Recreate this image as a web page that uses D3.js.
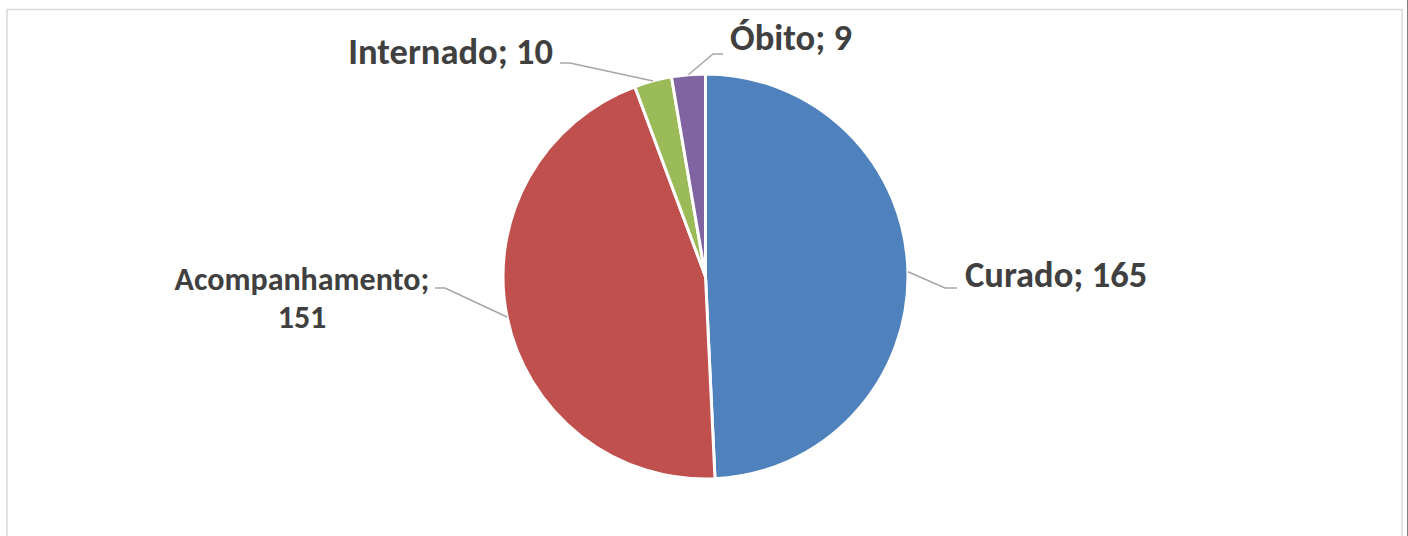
<!DOCTYPE html>
<html>
<head>
<meta charset="utf-8">
<script src="https://cdn.jsdelivr.net/npm/d3@7"></script>
<style>
    html, body { margin: 0; padding: 0; background: #fff; }
    svg { display: block; }
    .label { font-family: Calibri, Carlito, Lato, sans-serif; font-weight: 700; fill: #404040; }
</style>
</head>
<body>
<svg id="chart"></svg>
<script>
// Chart data
const categories = ['Curado', 'Acompanhamento', 'Internado', 'Óbito'];
const values = [165, 151, 10, 9];
const colors = ['#4F81BD', '#C0504D', '#9BBB59', '#8064A2'];

// Layout
const width = 1408;
const height = 536;
const center = { x: 705.5, y: 276.5 };
const radius = 202.5;

// Label placement (text lines, anchor, font size, leader line elbow and end)
const labelLayout = {
    'Curado':         { lines: ['Curado; 165'], x: 965, y: 287, anchor: 'start', size: 36.5, elbow: [945, 288], end: [957, 288] },
    'Acompanhamento': { lines: ['Acompanhamento;', '151'], x: 302, y: 290, anchor: 'middle', size: 32, elbow: [445, 288], end: [435, 288] },
    'Internado':      { lines: ['Internado; 10'], x: 553, y: 64, anchor: 'end', size: 36.5, elbow: [570, 63], end: [560, 63] },
    'Óbito':          { lines: ['Óbito; 9'], x: 730, y: 50, anchor: 'start', size: 36.5, elbow: [713, 54], end: [723, 54] }
};

const data = categories.map((c, i) => ({ name: c, value: values[i], color: colors[i] }));

const svg = d3.select('#chart')
    .attr('width', width)
    .attr('height', height);

// Chart area border
svg.append('rect')
    .attr('x', 7)
    .attr('y', 9.5)
    .attr('width', 1395)
    .attr('height', 560)
    .attr('fill', 'none')
    .attr('stroke', '#D9D9D9')
    .attr('stroke-width', 1.5);

svg.append('line')
    .attr('x1', 1407.5).attr('x2', 1407.5)
    .attr('y1', 0).attr('y2', height)
    .attr('stroke', '#7F7F7F')
    .attr('stroke-width', 1);

const pie = d3.pie()
    .sort(null)
    .value(d => d.value);

const arc = d3.arc()
    .innerRadius(0)
    .outerRadius(radius);

const arcs = pie(data);

const g = svg.append('g')
    .attr('transform', `translate(${center.x},${center.y})`);

// Slices
g.selectAll('path.slice')
    .data(arcs)
    .enter().append('path')
    .attr('class', 'slice')
    .attr('d', arc)
    .attr('fill', d => d.data.color)
    .attr('stroke', '#fff')
    .attr('stroke-width', 3)
    .attr('stroke-linejoin', 'round');

// Leader lines: from slice edge at mid angle to the label
svg.append('g')
    .selectAll('polyline')
    .data(arcs)
    .enter().append('polyline')
    .attr('points', d => {
        const a = (d.startAngle + d.endAngle) / 2;
        const p = [center.x + radius * Math.sin(a), center.y - radius * Math.cos(a)];
        const L = labelLayout[d.data.name];
        return [p, L.elbow, L.end].map(q => q.join(',')).join(' ');
    })
    .attr('fill', 'none')
    .attr('stroke', '#A6A6A6')
    .attr('stroke-width', 1.5);

// Data labels
const labels = svg.append('g')
    .selectAll('text')
    .data(arcs)
    .enter().append('text')
    .attr('class', 'label')
    .attr('text-anchor', d => labelLayout[d.data.name].anchor)
    .style('font-size', d => labelLayout[d.data.name].size + 'px');

labels.each(function(d) {
    const L = labelLayout[d.data.name];
    d3.select(this).selectAll('tspan')
        .data(L.lines)
        .enter().append('tspan')
        .attr('x', L.x)
        .attr('y', (t, i) => L.y + i * 38)
        .text(t => t);
});
</script>
</body>
</html>
